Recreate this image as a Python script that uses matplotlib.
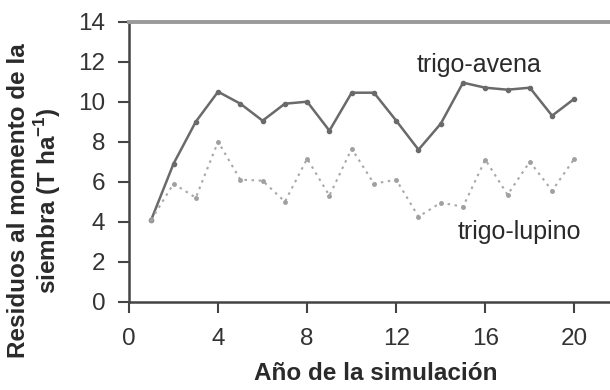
import matplotlib
matplotlib.use("Agg")
import matplotlib.pyplot as plt

plt.rcParams['font.family'] = ['Liberation Sans', 'DejaVu Sans']
plt.rcParams['mathtext.fontset'] = 'custom'
plt.rcParams['mathtext.rm'] = 'Liberation Sans'
plt.rcParams['mathtext.bf'] = 'Liberation Sans:bold'

years = list(range(1, 21))
trigo_avena = [4.1, 6.9, 9.0, 10.5, 9.9, 9.05, 9.9, 10.0, 8.55, 10.45,
               10.45, 9.05, 7.6, 8.9, 10.95, 10.7, 10.6, 10.7, 9.3, 10.15]
trigo_lupino = [4.1, 5.9, 5.2, 8.0, 6.1, 6.05, 5.0, 7.15, 5.3, 7.65,
                5.9, 6.1, 4.25, 4.95, 4.75, 7.1, 5.35, 7.0, 5.55, 7.15]
xticks = [0, 4, 8, 12, 16, 20]
yticks = [0, 2, 4, 6, 8, 10, 12, 14]

fig = plt.figure(figsize=(6.1, 3.9), dpi=100)
ax = fig.add_axes([129/610, 1-301.7/390, 1-129/610, (301.7-21.7)/390])

ax.plot(years, trigo_avena, color='#6a6a6a', lw=1.8, marker='o', ms=3,
        mfc='#6a6a6a', mec='#6a6a6a', clip_on=False)
ax.plot(years, trigo_lupino, color='#a8a8a8', lw=1.5, ls=(0, (1.2, 2.2)),
        marker='o', ms=2.5, mfc='#a0a0a0', mec='#a0a0a0', clip_on=False)

ax.text(12.9, 11.85, 'trigo-avena', fontsize=18, color='#2a2a2a', va='center', ha='left')
ax.text(14.75, 3.5, 'trigo-lupino', fontsize=18, color='#2a2a2a', va='center', ha='left')

ax.set_xlim(0, 21.6)
ax.set_ylim(0, 14)
ax.set_xticks(xticks)
ax.set_yticks(yticks)
ax.tick_params(axis='both', direction='out', length=8, width=1.5, color='#444444',
               labelsize=17.5, labelcolor='#333333')
ax.tick_params(axis='x', pad=11)
ax.tick_params(axis='y', pad=9)
ax.spines['right'].set_visible(False)
for s in ['left', 'bottom']:
    ax.spines[s].set_color('#444444')
    ax.spines[s].set_linewidth(1.8)
ax.spines['top'].set_color('#9a9a9a')
ax.spines['top'].set_linewidth(2.8)

fig.text(35/610, 1-201/390, 'Residuos al momento de la\nsiembra (T ha$^{\\mathbf{-1}}$)',
         rotation=90, ha='center', va='center', multialignment='center',
         fontsize=17.5, fontweight='bold', color='#2a2a2a', linespacing=1.1)
fig.text(376/610, 1-373/390, 'Año de la simulación', ha='center', va='center',
         fontsize=17.5, fontweight='bold', color='#2a2a2a')

fig.savefig('out.png', dpi=100)
